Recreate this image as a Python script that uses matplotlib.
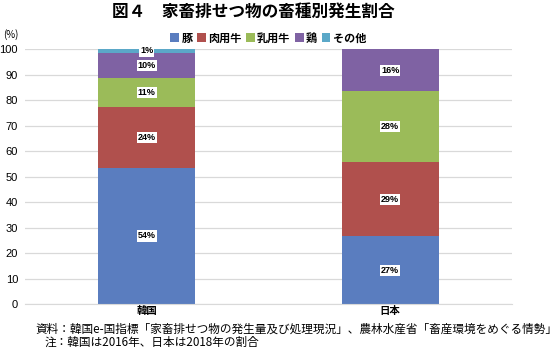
import matplotlib
matplotlib.use("Agg")
import matplotlib.pyplot as plt
import numpy as np

plt.rcParams["font.family"] = ["Noto Sans CJK JP", "DejaVu Sans"]

countries = ["韓国", "日本"]
categories = ["豚", "肉用牛", "乳用牛", "鶏", "その他"]
pig = [53.6, 26.8]
beef = [23.7, 28.9]
dairy = [11.3, 27.9]
chicken = [10.1, 16.4]
other = [1.3, 0.0]
series = [pig, beef, dairy, chicken, other]
colors = ["#5A7DBF", "#B0504D", "#9BBB59", "#7F62A3", "#5BA8C8"]

fig = plt.figure(figsize=(5.6, 3.56), dpi=100)
ax = fig.add_axes([0.0446, 0.1452, 0.8696, 0.7163])

x = np.arange(len(countries))
bottom = np.zeros(len(countries))
for name, vals, col in zip(categories, series, colors):
    vals = np.array(vals)
    ax.bar(x, vals, 0.4, bottom=bottom, color=col, label=name, zorder=2)
    for xi, b, v in zip(x, bottom, vals):
        if v > 0:
            ax.text(xi, b + v / 2, f"{v:.0f}%", ha="center", va="center",
                    fontsize=6.5, fontweight="bold", family="Liberation Sans", zorder=3,
                    bbox=dict(facecolor="white", edgecolor="none", pad=0.8))
    bottom += vals

ax.set_xlim(-0.5, 1.5)
ax.set_ylim(0, 100)
ax.set_yticks(range(0, 101, 10))
ax.set_xticks(x)
ax.set_xticklabels(countries, fontsize=7.5, fontweight="bold")
ax.tick_params(axis="x", length=0, pad=1)
ax.tick_params(axis="y", length=0, pad=5)
for lbl in ax.get_yticklabels():
    lbl.set_family("Liberation Sans")
    lbl.set_fontsize(8)
ax.yaxis.grid(True, color="#D9D9D9", linewidth=0.9, zorder=0)
for s in ["top", "right", "left"]:
    ax.spines[s].set_visible(False)
ax.spines["bottom"].set_color("#D9D9D9")

fig.text(0.452, 0.966, "図４　家畜排せつ物の畜種別発生割合", ha="center", va="center",
         fontsize=12, fontweight="bold")
fig.text(0.02, 0.902, "(%)", ha="center", va="center", fontsize=7)
fig.legend(loc="center", bbox_to_anchor=(0.479, 0.893), ncol=5, frameon=False,
           handlelength=0.8, handleheight=0.8, handletextpad=0.2,
           columnspacing=0.4, prop={"weight": "bold", "size": 8})

fig.text(0.0625, 0.075, "資料：韓国e-国指標「家畜排せつ物の発生量及び処理現況」、農林水産省「畜産環境をめぐる情勢」",
         ha="left", va="center", fontsize=8.4)
fig.text(0.080, 0.039, "注：韓国は2016年、日本は2018年の割合",
         ha="left", va="center", fontsize=8.4)

fig.savefig("out.png", dpi=100)
